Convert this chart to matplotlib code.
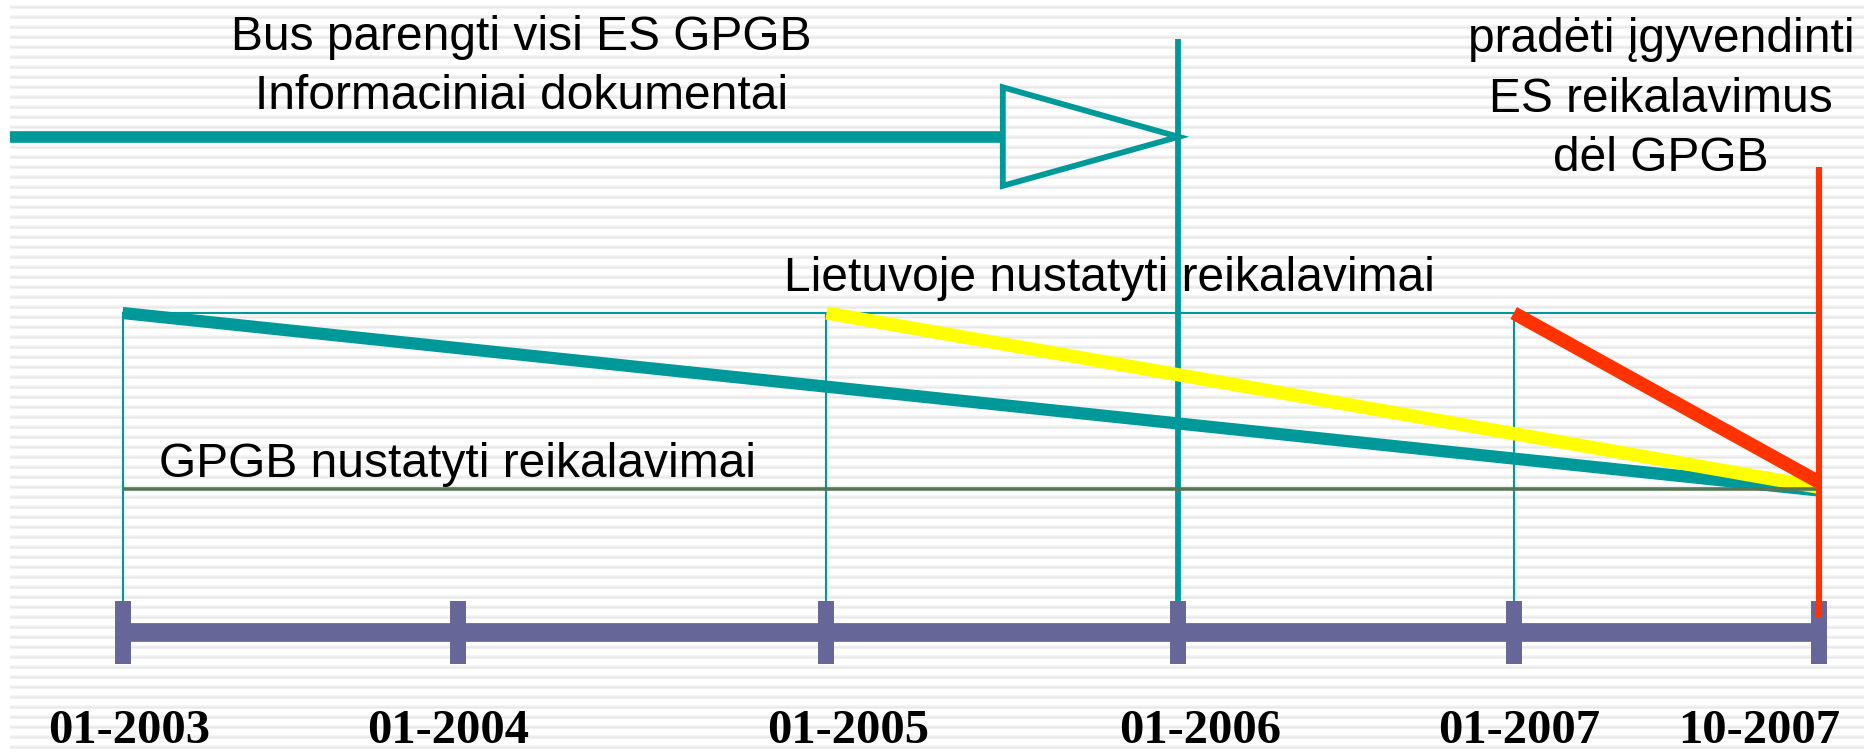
import matplotlib
matplotlib.use("Agg")
import matplotlib.pyplot as plt
import numpy as np
from matplotlib.patches import Polygon

# ---------------- data ----------------
milestone_labels = ["01-2003", "01-2004", "01-2005", "01-2006", "01-2007", "10-2007"]
milestone_x = [0.0, 1.0, 2.1, 3.15, 4.15, 5.06]          # schematic timeline positions
label_x = [0.021, 0.972, 2.166, 3.215, 4.166, 4.881]    # where the date labels sit

level_doc = 6.152     # "Informaciniai dokumentai" arrow level
level_lt = 4.39       # Lietuvoje requirements level
level_gpgb = 2.635    # GPGB requirements level
timeline_y = 1.20

doc_start_x = -0.336
doc_arrow_base_x = 2.626
doc_target = "01-2006"

# sloped requirement lines: start milestone, start level, end level
slope_starts = ["01-2003", "01-2005", "01-2007"]
slope_end = "10-2007"
slope_end_levels = [2.615, 2.648, 2.70]
slope_colors = ["#009999", "#ffff00", "#ff3300"]
slope_widths = [8.8, 9.6, 9.8]

thin_marks = ["01-2003", "01-2005", "01-2007"]

texts_top_left = "Bus parengti visi ES GPGB\nInformaciniai dokumentai"
text_lt = "Lietuvoje nustatyti reikalavimai"
text_gpgb = "GPGB nustatyti reikalavimai"
text_right = "pradėti įgyvendinti\nES reikalavimus\ndėl GPGB"

TEAL = "#009999"
pos = dict(zip(milestone_labels, milestone_x))

# ---------------- figure ----------------
fig = plt.figure(figsize=(18.65, 7.52), dpi=100)
fig.patch.set_facecolor("white")

# striped slide background (pixel coordinates)
bg = fig.add_axes([0, 0, 1, 1])
bg.set_xlim(0, 1865)
bg.set_ylim(752, 0)
bg.axis("off")
stripe_y = np.arange(7, 752, 10)
bg.hlines(stripe_y, 10, 1865, color="#f3f3f3", lw=2.6)
bg.hlines(stripe_y, 10, 1865, color="#e7e7e7", lw=1.0)

ax = fig.add_axes([0, 0, 1, 1], facecolor="none")
ax.set_xlim(-0.3655, 5.198)
ax.set_ylim(0, 7.52)
ax.axis("off")

sans = ["Liberation Sans", "DejaVu Sans"]
serif = ["Liberation Serif", "DejaVu Serif"]

# thin frame lines
ax.plot([pos["01-2003"], pos[slope_end]], [level_lt, level_lt], color=TEAL, lw=1.5, zorder=2)
for m in thin_marks:
    ax.plot([pos[m], pos[m]], [1.35, level_lt], color=TEAL, lw=1.5, zorder=2,
            solid_capstyle="butt")

# vertical at 01-2006
ax.plot([pos[doc_target], pos[doc_target]], [1.18, 7.13], color=TEAL, lw=4.2,
        solid_capstyle="butt", zorder=2)

# sloped lines
for s, e_lvl, c, w in zip(slope_starts, slope_end_levels, slope_colors, slope_widths):
    ax.plot([pos[s], pos[slope_end]], [level_lt, e_lvl], color=c, lw=w,
            solid_capstyle="butt", zorder=4)

# GPGB level line
ax.plot([pos["01-2003"], pos[slope_end]], [level_gpgb, level_gpgb], color="#557755",
        lw=2.6, solid_capstyle="butt", zorder=5)

# top arrow
ax.plot([doc_start_x, doc_arrow_base_x], [level_doc, level_doc], color=TEAL, lw=8.4,
        solid_capstyle="butt", zorder=3)
tri = Polygon([(doc_arrow_base_x, level_doc + 0.495), (pos[doc_target], level_doc),
               (doc_arrow_base_x, level_doc - 0.49)], closed=True, fill=False,
              edgecolor=TEAL, lw=4.2, joinstyle="miter", zorder=3)
ax.add_patch(tri)

# timeline
ax.plot([milestone_x[0], milestone_x[-1]], [timeline_y, timeline_y], color="#666699",
        lw=13.5, solid_capstyle="butt", zorder=6)
for x in milestone_x:
    ax.plot([x, x], [0.885, 1.51], color="#666699", lw=11.5, solid_capstyle="butt", zorder=6)

# red deadline vertical
ax.plot([pos[slope_end], pos[slope_end]], [1.35, 5.855], color="#ff3300", lw=4.4,
        solid_capstyle="butt", zorder=7)

# date labels
for lx, lab in zip(label_x, milestone_labels):
    ax.text(lx, 0.09, lab, family=serif, weight="bold", fontsize=35,
            ha="center", va="baseline", color="black", zorder=8)

# annotations
ax.text(1.189, 7.37, texts_top_left, family=sans, fontsize=34.5, ha="center", va="top",
        linespacing=1.41, multialignment="center", zorder=8)
ax.text(2.943, 4.606, text_lt, family=sans, fontsize=34.5, ha="center", va="baseline", zorder=8)
ax.text(0.998, 2.75, text_gpgb, family=sans, fontsize=34.5, ha="center", va="baseline", zorder=8)
ax.text(4.589, 7.345, text_right, family=sans, fontsize=34.5, ha="center", va="top",
        linespacing=1.41, multialignment="center", zorder=8)

fig.savefig("out.png", dpi=100, facecolor="white")
